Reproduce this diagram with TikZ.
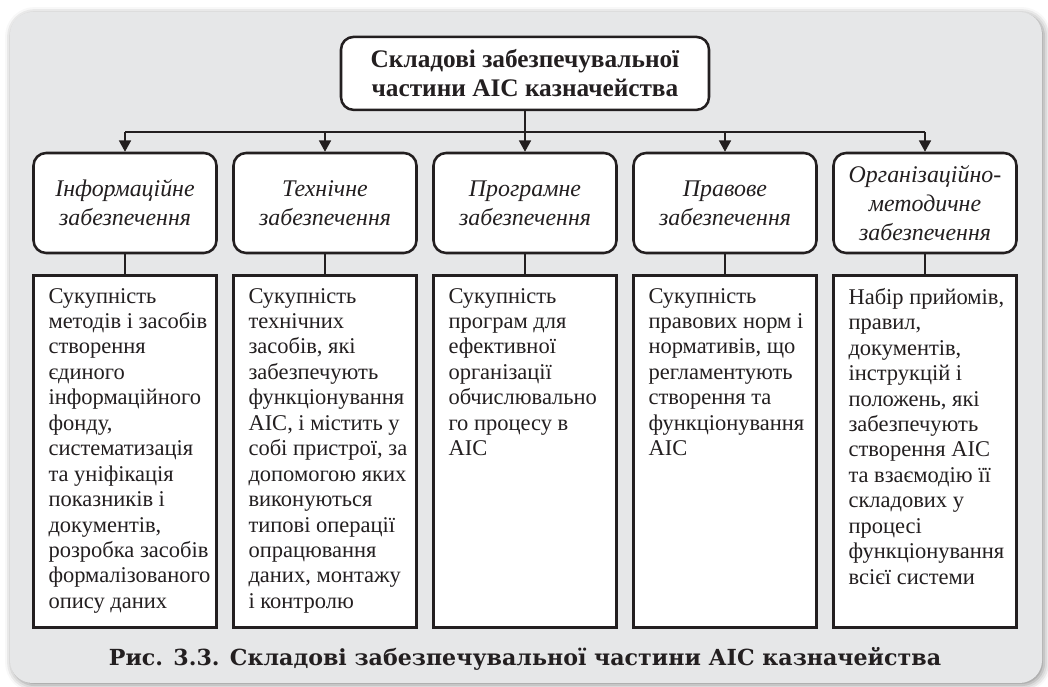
\documentclass[tikz,border=0pt]{standalone}
\usepackage{fontspec}
\setmainfont{Liberation Serif}
\newfontfamily\capfont{DejaVu Serif}
\usetikzlibrary{
  arrows.meta,
  positioning,
  shadows.blur
}
\definecolor{skPanel}{HTML}{E6E7E8}
\definecolor{skInk}{HTML}{231F20}
\tikzset{
  % Root node (whole subsystem)
  rootnode/.style={
    rectangle,
    rounded corners=9pt,
    draw=skInk,
    fill=white,
    line width=1.8pt,
    minimum width=9.2cm,
    minimum height=1.825cm,
    align=center,
    font=\fontsize{18}{20.6}\selectfont\bfseries,
    text=skInk
  },
  % Component header
  headnode/.style={
    rectangle,
    rounded corners=9pt,
    draw=skInk,
    fill=white,
    line width=1.8pt,
    minimum width=4.575cm,
    minimum height=2.5cm,
    align=center,
    font=\fontsize{17}{20.6}\selectfont\itshape,
    text=skInk
  },
  % Description frame
  descnode/.style={
    rectangle,
    draw=skInk,
    fill=white,
    line width=1.8pt,
    minimum width=4.575cm,
    minimum height=8.8cm
  },
  % Description text
  desctext/.style={
    anchor=north west,
    inner sep=0pt,
    align=left,
    font=\fontsize{16}{18.1}\selectfont,
    text=skInk
  },
  % Horizontal bus
  busline/.style={
    line width=1.2pt,
    draw=skInk
  },
  % Branch arrow
  branch/.style={
    -{Triangle[width=8.5pt,length=8pt]},
    line width=1.2pt,
    draw=skInk
  },
  % Header to description
  link/.style={
    line width=0.8pt,
    draw=skInk
  },
  % Figure caption
  capnode/.style={
    font=\capfont\bfseries\fontsize{15.75}{18}\selectfont,
    text=skInk
  }
}

\begin{document}
\begin{tikzpicture}
\useasboundingbox (0,0) rectangle (26.2,17.175);

%% === Background panel ===
\path[fill=skPanel, rounded corners=16pt,
      blur shadow={shadow xshift=1.5pt, shadow yshift=-1.5pt,
                   shadow blur radius=5pt, shadow opacity=45}]
  (0.25,0.1) rectangle (26.05,16.875);

%% === Root ===
\node[rootnode] (root) at (13.125, 15.34)
  {Складові забезпечувальної\\частини АІС казначейства};

%% === Headers ===
\node[headnode] (head1) at (3.125, 12.1) {Інформаційне\\забезпечення};
\node[headnode] (head2) at (8.125, 12.1) {Технічне\\забезпечення};
\node[headnode] (head3) at (13.125, 12.1) {Програмне\\забезпечення};
\node[headnode] (head4) at (18.125, 12.1) {Правове\\забезпечення};
\node[headnode] (head5) at (23.125, 12.1) {Організаційно-\\методичне\\забезпечення};

%% === Branches ===
\coordinate (bus) at (13.125, 13.875);
\draw[busline] (head1.north |- bus) -- (head5.north |- bus);
\draw[branch] (root.south) -- (head3.north);
\foreach \i in {1,2,4,5}
  \draw[branch] (head\i.north |- bus) -- (head\i.north);

%% === Descriptions ===
\foreach \i in {1,...,5} {
  \node[descnode, below=0.5cm of head\i] (desc\i) {};
  \draw[link] (head\i) -- (desc\i);
}

\node[desctext] (txt1) at ([xshift=0.4cm, yshift=-0.34cm]desc1.north west)
  {Сукупність\\методів і засобів\\створення\\єдиного\\інформаційного\\фонду,\\систематизація\\та уніфікація\\показників і\\документів,\\розробка засобів\\формалізованого\\опису даних};
\node[desctext] (txt2) at ([xshift=0.4cm, yshift=-0.34cm]desc2.north west)
  {Сукупність\\технічних\\засобів, які\\забезпечують\\функціонування\\АІС, і містить у\\собі пристрої, за\\допомогою яких\\виконуються\\типові операції\\опрацювання\\даних, монтажу\\і контролю};
\node[desctext] (txt3) at ([xshift=0.4cm, yshift=-0.34cm]desc3.north west)
  {Сукупність\\програм для\\ефективної\\організації\\обчислювально\\го процесу в\\АІС};
\node[desctext] (txt4) at ([xshift=0.4cm, yshift=-0.34cm]desc4.north west)
  {Сукупність\\правових норм і\\нормативів, що\\регламентують\\створення та\\функціонування\\АІС};
\node[desctext] (txt5) at ([xshift=0.4cm, yshift=-0.34cm]desc5.north west)
  {Набір прийомів,\\правил,\\документів,\\інструкцій і\\положень, які\\забезпечують\\створення АІС\\та взаємодію її\\складових у\\процесі\\функціонування\\всієї системи};

%% === Caption ===
\node[capnode] (caption) at (13.125, 0.69)
  {Рис. 3.3. Складові забезпечувальної частини АІС казначейства};

\end{tikzpicture}
\end{document}
